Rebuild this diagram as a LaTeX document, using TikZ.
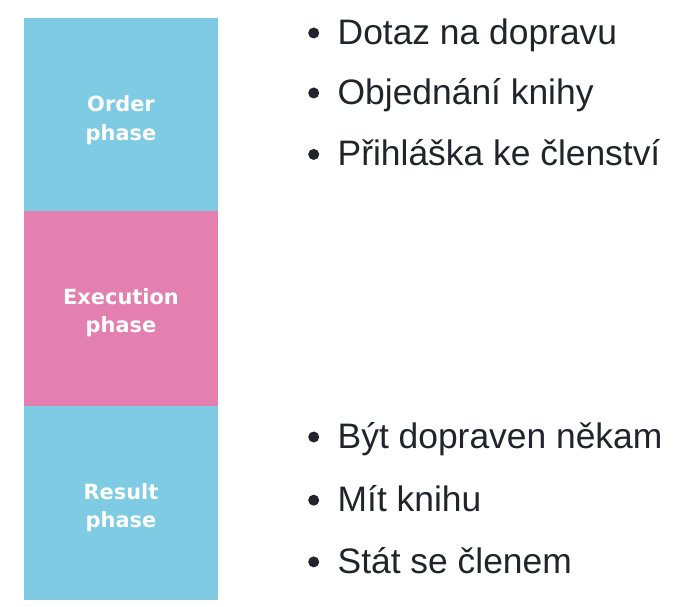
\documentclass[tikz,border=0pt]{standalone}
\usepackage{fontspec}
\setmainfont{Liberation Sans}
\newfontfamily\lblfont{DejaVu Sans}
\definecolor{phaseblue}{RGB}{126,203,227}
\definecolor{phasepink}{RGB}{228,128,176}
\definecolor{itemtext}{RGB}{33,37,43}
\begin{document}
\begin{tikzpicture}[x=1pt,y=-1pt,
  phasebox/.style={rectangle,inner sep=0pt,outer sep=0pt,minimum width=194pt,minimum height=#1},
  phaselbl/.style={inner sep=0pt,align=center,text=white,font=\lblfont\bfseries\fontsize{20.9}{28.5}\selectfont},
  itemlbl/.style={anchor=base west,inner sep=0pt,text=itemtext,font=\fontsize{35.4}{40}\selectfont},
  bulletdot/.style={circle,fill=itemtext,inner sep=0pt,minimum size=11pt}]
\useasboundingbox (0,0) rectangle (698,607);
\fill[white] (0,0) rectangle (698,607);
% phase boxes
\node[phasebox=193pt,fill=phaseblue] (obox) at (121,114.5) {};
\node[phasebox=194.5pt,fill=phasepink] (ebox) at (121,308.25) {};
\node[phasebox=194.5pt,fill=phaseblue] (rbox) at (121,502.75) {};
\node[phaselbl] (olbl) at ([yshift=-5.6pt]obox.center) {Order\\phase};
\node[phaselbl] (elbl) at ([yshift=-4.6pt]ebox.center) {Execution\\phase};
\node[phaselbl] (rlbl) at ([yshift=-4.8pt]rbox.center) {Result\\phase};
% items
\node[itemlbl] (i1) at (337.5,44.3) {Dotaz na dopravu};
\node[itemlbl] (i2) at (337.5,104.3) {Objednání knihy};
\node[itemlbl] (i3) at (337.5,165.7) {Přihláška ke členství};
\node[itemlbl] (i4) at (337.5,448.3) {Být dopraven někam};
\node[itemlbl] (i5) at (337.5,511.5) {Mít knihu};
\node[itemlbl] (i6) at (337.5,573.2) {Stát se členem};
\node[bulletdot] (b1) at (313.7,33) {};
\node[bulletdot] (b2) at (313.7,93) {};
\node[bulletdot] (b3) at (313.7,154.4) {};
\node[bulletdot] (b4) at (313.7,437) {};
\node[bulletdot] (b5) at (313.7,500.2) {};
\node[bulletdot] (b6) at (313.7,561.9) {};
\end{tikzpicture}
\end{document}
